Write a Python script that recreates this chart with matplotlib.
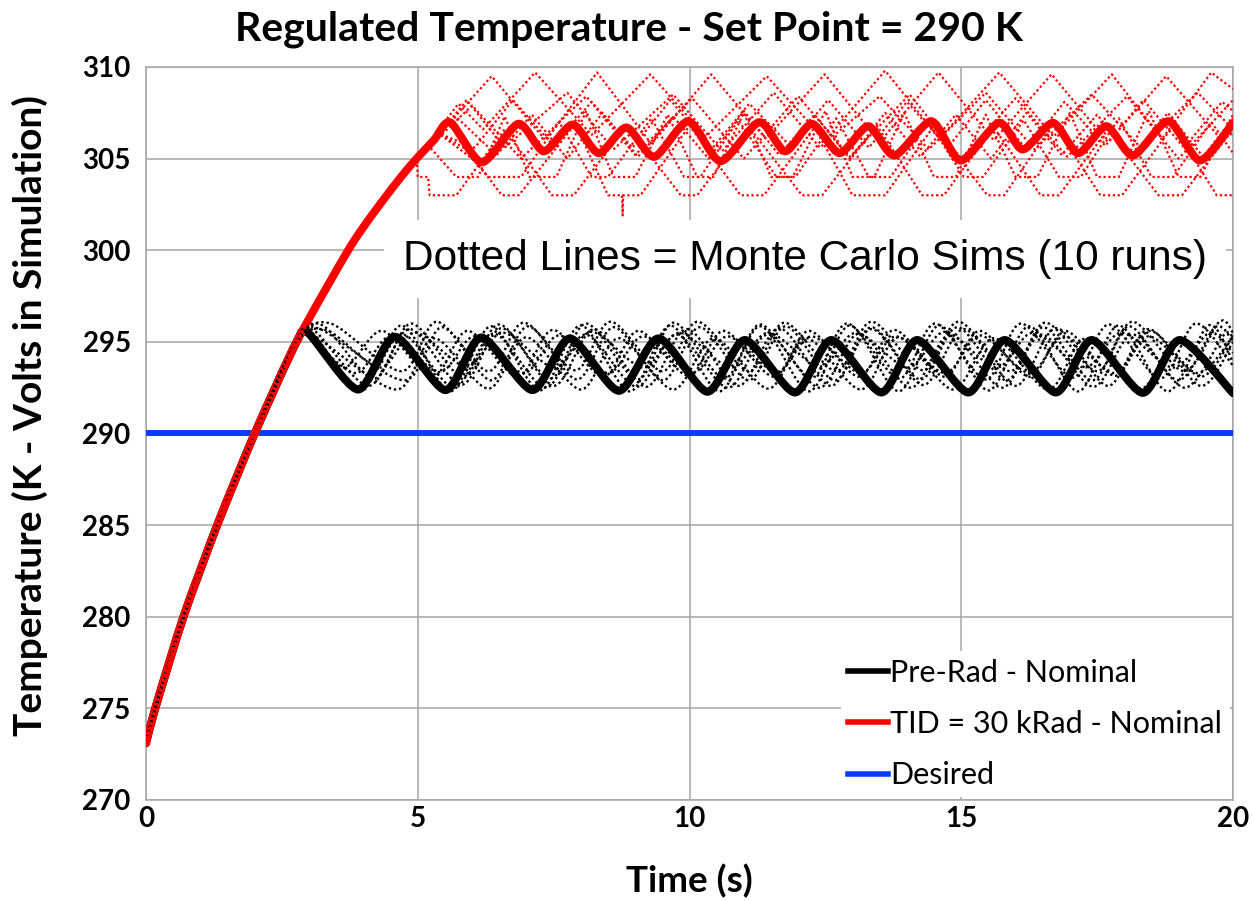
import matplotlib
matplotlib.use("Agg")
import matplotlib.pyplot as plt
from matplotlib.path import Path
from matplotlib.patches import PathPatch
from matplotlib.lines import Line2D

# ---- shared warm-up curve (both nominal runs and all Monte Carlo runs) ----
rise_t = [0.0, 0.17, 0.69, 1.31, 2.0, 2.77, 3.72, 4.2, 4.7, 5.0, 5.3]
rise_v = [273.1, 275.0, 280.0, 285.0, 290.0, 295.0, 300.0, 302.09, 304.03, 305.07, 306.02]

# ---- Pre-Rad nominal (after leaving the warm-up curve at 295 K) ----
prerad_t = [2.99, 3.90, 4.58, 5.51, 6.17, 7.11, 7.80, 8.70, 9.43, 10.33, 11.02,
            11.94, 12.61, 13.53, 14.19, 15.13, 15.80, 16.74, 17.40, 18.34, 19.02, 20.0]
prerad_v = [295.46, 292.40, 295.28, 292.37, 295.24, 292.37, 295.19, 292.33, 295.19,
            292.28, 295.10, 292.24, 295.10, 292.24, 295.10, 292.24, 295.10, 292.24,
            295.10, 292.22, 295.10, 292.20]

# ---- TID = 30 kRad nominal ----
tid_t = [5.6, 6.18, 6.85, 7.32, 7.85, 8.33, 8.84, 9.35, 9.98, 10.57, 11.28, 11.76,
         12.25, 12.76, 13.29, 13.77, 14.45, 14.99, 15.69, 16.13, 16.69, 17.15, 17.67,
         18.16, 18.81, 19.39, 20.0]
tid_v = [306.98, 304.8, 306.9, 305.4, 306.86, 305.3, 306.7, 305.1, 307.04, 304.86,
         306.99, 305.4, 306.9, 305.3, 306.77, 305.17, 307.04, 304.9, 306.95, 305.5,
         306.95, 305.3, 306.77, 305.17, 307.04, 304.9, 306.95]

# ---- Pre-Rad Monte Carlo runs (continue from warm-up curve at 295 K) ----
mc_pre = [
    ([3.25, 4.2, 4.88, 5.83, 6.5, 7.44, 8.1, 9.05, 9.71, 10.64, 11.3, 12.25, 12.9, 13.86,
      14.52, 15.45, 16.1, 17.05, 17.72, 18.66, 19.31, 20.0],
     [295.9, 293.0, 296.0, 293.1, 295.95, 293.0, 296.0, 292.95, 296.05, 293.0, 295.95,
      293.05, 296.0, 293.0, 296.0, 292.95, 296.0, 293.05, 295.95, 293.0, 296.0, 293.7]),
    ([3.1, 4.1, 4.85, 5.8, 6.55, 7.5, 8.25, 9.2, 9.95, 10.9, 11.65, 12.6, 13.35, 14.3,
      15.05, 16.0, 16.75, 17.7, 18.45, 19.4, 20.0],
     [295.6, 292.6, 295.7, 292.65, 295.75, 292.6, 295.7, 292.55, 295.7, 292.6, 295.75,
      292.6, 295.7, 292.65, 295.7, 292.6, 295.75, 292.6, 295.7, 292.6, 295.0]),
    ([2.95, 3.85, 4.5, 5.4, 6.05, 6.95, 7.6, 8.5, 9.15, 10.05, 10.7, 11.6, 12.25, 13.15,
      13.8, 14.7, 15.35, 16.25, 16.9, 17.8, 18.45, 19.35, 20.0],
     [295.4, 293.3, 295.3, 293.35, 295.3, 293.3, 295.35, 293.3, 295.3, 293.3, 295.3,
      293.35, 295.3, 293.3, 295.3, 293.3, 295.35, 293.3, 295.3, 293.3, 295.3, 293.3, 295.3]),
    ([3.0, 3.95, 4.7, 5.6, 6.35, 7.25, 8.0, 8.9, 9.65, 10.55, 11.3, 12.2, 12.95, 13.85,
      14.6, 15.5, 16.25, 17.15, 17.9, 18.8, 19.55, 20.0],
     [295.5, 292.3, 295.9, 292.3, 295.85, 292.35, 295.9, 292.3, 295.9, 292.3, 295.85,
      292.3, 295.9, 292.3, 295.9, 292.35, 295.85, 292.3, 295.9, 292.3, 295.9, 293.9]),
    ([3.35, 4.3, 4.95, 5.9, 6.57, 7.52, 8.2, 9.15, 9.82, 10.77, 11.45, 12.4, 13.07, 14.02,
      14.7, 15.65, 16.32, 17.27, 17.95, 18.9, 19.57, 20.0],
     [295.6, 293.6, 295.5, 293.65, 295.5, 293.6, 295.55, 293.6, 295.5, 293.6, 295.5,
      293.65, 295.5, 293.6, 295.55, 293.6, 295.5, 293.6, 295.5, 293.6, 295.5, 294.4]),
    ([3.2, 4.75, 5.45, 6.35, 7.03, 7.93, 8.61, 9.51, 10.19, 11.09, 11.77, 12.67, 13.35,
      14.25, 14.93, 15.83, 16.51, 17.41, 18.09, 18.99, 19.67, 20.0],
     [295.7, 292.9, 295.8, 292.9, 295.85, 292.95, 295.8, 292.9, 295.8, 292.9, 295.85,
      292.9, 295.8, 292.95, 295.8, 292.9, 295.8, 292.9, 295.85, 292.9, 295.8, 295.0]),
    ([3.0, 3.95, 4.72, 5.67, 6.4, 7.35, 8.08, 9.03, 9.76, 10.71, 11.44, 12.39, 13.12,
      14.07, 14.8, 15.75, 16.48, 17.43, 18.16, 19.11, 19.84, 20.0],
     [295.4, 292.5, 295.4, 292.5, 295.45, 292.5, 295.4, 292.55, 295.4, 292.5, 295.4,
      292.5, 295.45, 292.5, 295.4, 292.5, 295.4, 292.55, 295.4, 292.5, 295.4, 295.1]),
    ([3.4, 4.7, 5.35, 6.3, 6.95, 7.9, 8.55, 9.5, 10.15, 11.1, 11.75, 12.7, 13.35, 14.3,
      14.95, 15.9, 16.55, 17.5, 18.15, 19.1, 19.75, 20.0],
     [296.0, 293.4, 296.1, 293.4, 296.05, 293.45, 296.1, 293.4, 296.1, 293.4, 296.05,
      293.4, 296.1, 293.45, 296.1, 293.4, 296.05, 293.4, 296.1, 293.4, 296.1, 295.5]),
    ([3.1, 4.6, 5.3, 6.3, 7.0, 8.0, 8.7, 9.7, 10.45, 11.45, 12.15, 13.15, 13.85, 14.85,
      15.6, 16.6, 17.3, 18.3, 19.0, 20.0],
     [295.3, 292.4, 295.2, 292.45, 295.25, 292.4, 295.2, 292.4, 295.2, 292.45, 295.2,
      292.4, 295.25, 292.4, 295.2, 292.4, 295.2, 292.45, 295.2, 292.4]),
    ([3.05, 3.65, 4.35, 5.27, 5.92, 6.84, 7.49, 8.41, 9.06, 9.98, 10.63, 11.55, 12.2,
      13.12, 13.77, 14.69, 15.34, 16.26, 16.91, 17.83, 18.48, 19.4, 20.0],
     [295.5, 293.6, 295.6, 293.1, 295.6, 293.1, 295.65, 293.1, 295.6, 293.15, 295.6,
      293.1, 295.6, 293.1, 295.65, 293.1, 295.6, 293.1, 295.6, 293.15, 295.6, 293.1, 295.3]),
]

# ---- TID = 30 kRad Monte Carlo runs ----
mc_tid = [
    ([5.4, 6.36, 7.35, 8.3, 9.3, 10.4, 11.4, 12.49, 13.5, 14.58, 15.6, 16.66, 17.7,
      18.77, 19.8, 20.0],
     [306.35, 309.5, 306.0, 309.7, 305.8, 309.6, 306.1, 309.6, 305.9, 309.7, 306.0,
      309.6, 305.9, 309.5, 306.0, 306.4]),
    ([4.98, 5.75, 6.2, 7.16, 8.2, 9.28, 10.3, 11.42, 12.5, 13.6, 14.6, 15.7, 16.7,
      17.77, 18.7, 19.6, 20.0],
     [305.0, 308.0, 306.6, 309.7, 306.3, 309.6, 306.2, 309.5, 306.0, 309.8, 306.1,
      309.7, 306.2, 309.6, 306.1, 309.7, 308.8]),
    ([5.4, 5.9, 6.6, 7.75, 8.6, 9.7, 10.6, 11.55, 12.4, 13.5, 14.4, 15.45, 16.35,
      17.4, 18.3, 19.35, 20.0],
     [306.35, 308.2, 305.6, 308.6, 305.5, 308.5, 305.4, 308.6, 305.6, 308.4, 305.5,
      308.6, 305.5, 308.5, 305.6, 308.6, 306.6]),
    ([4.98, 6.0, 6.9, 8.1, 9.0, 10.05, 11.0, 12.0, 12.95, 14.05, 15.0, 16.0, 16.95,
      18.05, 19.0, 20.0],
     [305.0, 307.9, 305.0, 308.4, 305.2, 308.3, 305.0, 308.4, 305.1, 308.5, 305.0,
      308.3, 305.1, 308.4, 305.0, 308.2]),
    ([4.98, 5.0, 5.19, 5.22, 5.71, 6.6, 7.47, 7.87, 8.85, 9.84, 10.14, 11.1, 12.07,
      12.44, 13.45, 14.28, 14.68, 15.6, 16.46, 16.8, 17.7, 18.63, 19.06, 20.0],
     [305.0, 304.0, 304.0, 303.0, 303.0, 306.6, 303.0, 303.0, 306.8, 303.0, 303.0,
      306.7, 303.0, 303.0, 306.8, 303.0, 303.0, 306.7, 303.0, 303.0, 306.6, 303.0,
      303.0, 306.6]),
    ([5.4, 5.9, 6.55, 6.86, 7.9, 8.5, 8.76, 8.77, 8.78, 9.1, 10.0, 10.94, 11.37, 12.3,
      13.0, 13.6, 14.5, 15.48, 15.79, 16.7, 17.56, 17.96, 18.9, 19.7, 20.0],
     [306.35, 305.5, 303.0, 303.0, 306.9, 303.0, 303.0, 301.9, 303.0, 303.0, 306.8,
      303.0, 303.0, 306.7, 303.0, 303.0, 306.8, 303.0, 303.0, 306.9, 303.0, 303.0,
      306.8, 303.0, 303.0]),
    ([5.2, 5.71, 6.11, 6.6, 7.06, 7.55, 8.1, 8.6, 9.0, 9.6, 10.14, 10.44, 11.0, 11.5,
      11.9, 12.5, 13.0, 13.4, 13.95, 14.5, 14.9, 15.45, 16.0, 16.4, 17.0, 17.5, 17.9,
      18.45, 19.0, 19.4, 20.0],
     [305.7, 304.0, 304.0, 307.3, 304.0, 304.0, 307.6, 304.0, 304.0, 307.4, 304.0,
      304.0, 307.5, 304.0, 304.0, 307.6, 304.0, 304.0, 307.5, 304.0, 304.0, 307.4,
      304.0, 304.0, 307.5, 304.0, 304.0, 307.6, 304.0, 304.0, 307.4]),
    ([5.4, 6.0, 6.3, 6.9, 7.6, 8.2, 8.5, 9.3, 9.9, 10.2, 10.9, 11.6, 11.95, 12.7, 13.3,
      13.7, 14.4, 15.05, 15.4, 16.15, 16.8, 17.2, 17.9, 18.5, 18.9, 19.6, 20.0],
     [306.35, 305.0, 304.0, 304.0, 307.0, 304.0, 304.0, 307.2, 304.0, 304.0, 307.1,
      304.0, 304.0, 307.2, 304.0, 304.0, 307.0, 304.0, 304.0, 307.1, 304.0, 304.0,
      307.2, 304.0, 304.0, 307.0, 305.3]),
    ([5.4, 5.7, 6.45, 7.1, 7.75, 8.4, 9.05, 9.7, 10.35, 11.0, 11.65, 12.3, 12.95,
      13.6, 14.25, 14.9, 15.55, 16.2, 16.85, 17.5, 18.15, 18.8, 19.45, 20.0],
     [306.35, 307.3, 305.2, 307.4, 305.0, 307.5, 305.1, 307.3, 305.0, 307.6, 305.2,
      307.4, 305.0, 307.5, 305.1, 307.4, 305.0, 307.5, 305.2, 307.4, 305.0, 307.5,
      305.1, 307.2]),
    ([5.4, 6.05, 6.75, 7.5, 8.2, 8.95, 9.65, 10.4, 11.1, 11.85, 12.55, 13.3, 14.0,
      14.75, 15.45, 16.2, 16.9, 17.65, 18.35, 19.1, 19.8, 20.0],
     [306.35, 305.6, 308.2, 305.7, 308.1, 305.6, 308.2, 305.5, 308.0, 305.7, 308.2,
      305.6, 308.1, 305.6, 308.2, 305.5, 308.1, 305.7, 308.2, 305.6, 308.1, 307.6]),
]

set_point = 290.0
x_ticks = [0, 5, 10, 15, 20]
y_ticks = [270, 275, 280, 285, 290, 295, 300, 305, 310]

BLACK = "#000000"
RED = "#ff0000"
BLUE = "#0a3cff"
GRID = "#a6a6a6"


def rise_until(t_stop):
    """Portion of the warm-up curve before t_stop."""
    ts, vs = [], []
    for t, v in zip(rise_t, rise_v):
        if t < t_stop:
            ts.append(t)
            vs.append(v)
    return ts, vs


def smooth_path(ts, vs, k=0.7):
    """Smoothed line through every point (Catmull-Rom style Bezier segments)."""
    pts = list(zip(ts, vs))
    n = len(pts)
    verts = [pts[0]]
    codes = [Path.MOVETO]
    for i in range(n - 1):
        p0 = pts[i - 1] if i > 0 else pts[i]
        p1 = pts[i]
        p2 = pts[i + 1]
        p3 = pts[i + 2] if i + 2 < n else pts[i + 1]
        c1 = (p1[0] + (p2[0] - p0[0]) * k / 6, p1[1] + (p2[1] - p0[1]) * k / 6)
        c2 = (p2[0] - (p3[0] - p1[0]) * k / 6, p2[1] - (p3[1] - p1[1]) * k / 6)
        verts += [c1, c2, p2]
        codes += [Path.CURVE4] * 3
    return Path(verts, codes)


def draw_smooth(ax, ts, vs, k=0.7, **kw):
    patch = PathPatch(smooth_path(ts, vs, k), fill=False, **kw)
    ax.add_patch(patch)
    return patch


fig = plt.figure(figsize=(12.52, 9.01), dpi=100)
ax = fig.add_axes([146 / 1252, 1 - 800 / 901, 1087 / 1252, 733 / 901])

ax.set_xlim(0, 20)
ax.set_ylim(270, 310)
ax.set_xticks(x_ticks)
ax.set_yticks(y_ticks)
ax.set_axisbelow(True)
ax.grid(True, color=GRID, linewidth=1.1)
for s in ax.spines.values():
    s.set_color(GRID)
    s.set_linewidth(1.1)
ax.tick_params(axis="y", length=0, pad=11)
ax.tick_params(axis="x", length=0, pad=4)
for lab in ax.get_xticklabels() + ax.get_yticklabels():
    lab.set_fontfamily("Lato")
    lab.set_fontweight("bold")
    lab.set_fontsize(20)

# nominal curves
bt, bv = rise_until(prerad_t[0])
draw_smooth(ax, bt + prerad_t, bv + prerad_v, k=0.75, edgecolor=BLACK, lw=5.8,
            joinstyle="round", capstyle="round", zorder=3)
rt, rv = rise_until(tid_t[0])
draw_smooth(ax, rt + tid_t, rv + tid_v, k=0.75, edgecolor=RED, lw=5.8,
            joinstyle="round", capstyle="round", zorder=4)
ax.axhline(set_point, color=BLUE, lw=4.3, zorder=3)

# Monte Carlo runs (dotted)
for ts, vs in mc_pre:
    pt, pv = rise_until(ts[0])
    draw_smooth(ax, pt + ts, pv + vs, k=0.9, edgecolor=BLACK, lw=1.7,
                linestyle=(0, (1.0, 1.2)), zorder=5)
for ts, vs in mc_tid:
    pt, pv = rise_until(ts[0])
    ax.plot(pt + ts, pv + vs, color=RED, lw=1.6, linestyle=(0, (1.0, 1.2)),
            dash_capstyle="butt", zorder=5)

ax.text(12.13, 299.5, "Dotted Lines = Monte Carlo Sims (10 runs)",
        family="Liberation Sans", fontsize=30.5, ha="center", va="center",
        zorder=1.5,
        bbox=dict(boxstyle="square,pad=0.45", fc="white", ec="none"))

fig.text(628.5 / 1252, 1 - 40 / 901, "Regulated Temperature - Set Point = 290 K",
         family="Lato", fontweight="bold", fontsize=29.5, ha="center", va="baseline")
fig.text(689 / 1252, 1 - 892 / 901, "Time (s)", family="Lato", fontweight="bold",
         fontsize=26.5, ha="center", va="baseline")
fig.text(30 / 1252, 1 - 415 / 901, "Temperature (K - Volts in Simulation)",
         family="Lato", fontweight="bold", fontsize=28, rotation=90,
         ha="center", va="center")

handles = [Line2D([], [], color=BLACK, lw=4.0),
           Line2D([], [], color=RED, lw=4.0),
           Line2D([], [], color=BLUE, lw=4.0)]
labels = ["Pre-Rad - Nominal", "TID = 30 kRad - Nominal", "Desired"]
leg = ax.legend(handles, labels, loc="lower right",
                prop=dict(family="Lato", size=22),
                frameon=True, fancybox=False, edgecolor="none", framealpha=1,
                handlelength=1.3, handletextpad=0.08, borderaxespad=0.1,
                labelspacing=0.76, borderpad=0.25)
leg.set_zorder(10)

fig.savefig("out.png", dpi=100, facecolor="white")
